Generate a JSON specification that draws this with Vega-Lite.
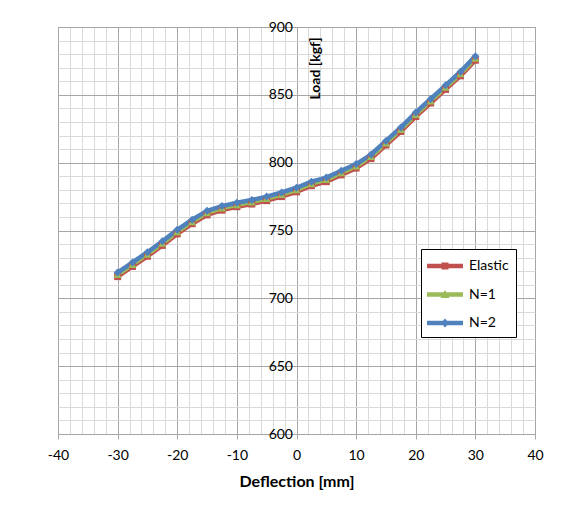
{
  "$schema": "https://vega.github.io/schema/vega-lite/v6.json",
  "width": 477,
  "height": 407,
  "autosize": "none",
  "padding": {"left": 58, "top": 27, "right": 36, "bottom": 76},
  "background": "white",
  "config": {
    "font": "Lato",
    "view": {"stroke": "#a6a6a6", "strokeWidth": 1}
  },
  "data": {
    "values": [
      {"x": -30, "load": 716, "series": "Elastic"},
      {"x": -27.5, "load": 723.5, "series": "Elastic"},
      {"x": -25, "load": 731, "series": "Elastic"},
      {"x": -22.5, "load": 739, "series": "Elastic"},
      {"x": -20, "load": 747.5, "series": "Elastic"},
      {"x": -17.5, "load": 755, "series": "Elastic"},
      {"x": -15, "load": 761.5, "series": "Elastic"},
      {"x": -12.5, "load": 765, "series": "Elastic"},
      {"x": -10, "load": 767.5, "series": "Elastic"},
      {"x": -7.5, "load": 769.5, "series": "Elastic"},
      {"x": -5, "load": 772, "series": "Elastic"},
      {"x": -2.5, "load": 775, "series": "Elastic"},
      {"x": 0, "load": 778.5, "series": "Elastic"},
      {"x": 2.5, "load": 783, "series": "Elastic"},
      {"x": 5, "load": 786, "series": "Elastic"},
      {"x": 7.5, "load": 791, "series": "Elastic"},
      {"x": 10, "load": 796, "series": "Elastic"},
      {"x": 12.5, "load": 803, "series": "Elastic"},
      {"x": 15, "load": 813, "series": "Elastic"},
      {"x": 17.5, "load": 823, "series": "Elastic"},
      {"x": 20, "load": 834, "series": "Elastic"},
      {"x": 22.5, "load": 844, "series": "Elastic"},
      {"x": 25, "load": 854, "series": "Elastic"},
      {"x": 27.5, "load": 864, "series": "Elastic"},
      {"x": 30, "load": 875.5, "series": "Elastic"},
      {"x": -30, "load": 717.5, "series": "N=1"},
      {"x": -27.5, "load": 725, "series": "N=1"},
      {"x": -25, "load": 732.5, "series": "N=1"},
      {"x": -22.5, "load": 740.5, "series": "N=1"},
      {"x": -20, "load": 749, "series": "N=1"},
      {"x": -17.5, "load": 756.5, "series": "N=1"},
      {"x": -15, "load": 763, "series": "N=1"},
      {"x": -12.5, "load": 766.5, "series": "N=1"},
      {"x": -10, "load": 769, "series": "N=1"},
      {"x": -7.5, "load": 771, "series": "N=1"},
      {"x": -5, "load": 773.5, "series": "N=1"},
      {"x": -2.5, "load": 776.5, "series": "N=1"},
      {"x": 0, "load": 780, "series": "N=1"},
      {"x": 2.5, "load": 784.5, "series": "N=1"},
      {"x": 5, "load": 787.5, "series": "N=1"},
      {"x": 7.5, "load": 792.5, "series": "N=1"},
      {"x": 10, "load": 797.5, "series": "N=1"},
      {"x": 12.5, "load": 804.5, "series": "N=1"},
      {"x": 15, "load": 814.5, "series": "N=1"},
      {"x": 17.5, "load": 824.5, "series": "N=1"},
      {"x": 20, "load": 835.5, "series": "N=1"},
      {"x": 22.5, "load": 845.5, "series": "N=1"},
      {"x": 25, "load": 855.5, "series": "N=1"},
      {"x": 27.5, "load": 865.5, "series": "N=1"},
      {"x": 30, "load": 877, "series": "N=1"},
      {"x": -30, "load": 719, "series": "N=2"},
      {"x": -27.5, "load": 726.5, "series": "N=2"},
      {"x": -25, "load": 734, "series": "N=2"},
      {"x": -22.5, "load": 742, "series": "N=2"},
      {"x": -20, "load": 750.5, "series": "N=2"},
      {"x": -17.5, "load": 758, "series": "N=2"},
      {"x": -15, "load": 764.5, "series": "N=2"},
      {"x": -12.5, "load": 768, "series": "N=2"},
      {"x": -10, "load": 770.5, "series": "N=2"},
      {"x": -7.5, "load": 772.5, "series": "N=2"},
      {"x": -5, "load": 775, "series": "N=2"},
      {"x": -2.5, "load": 778, "series": "N=2"},
      {"x": 0, "load": 781.5, "series": "N=2"},
      {"x": 2.5, "load": 786, "series": "N=2"},
      {"x": 5, "load": 789, "series": "N=2"},
      {"x": 7.5, "load": 794, "series": "N=2"},
      {"x": 10, "load": 799, "series": "N=2"},
      {"x": 12.5, "load": 806, "series": "N=2"},
      {"x": 15, "load": 816, "series": "N=2"},
      {"x": 17.5, "load": 826, "series": "N=2"},
      {"x": 20, "load": 837, "series": "N=2"},
      {"x": 22.5, "load": 847, "series": "N=2"},
      {"x": 25, "load": 857, "series": "N=2"},
      {"x": 27.5, "load": 867, "series": "N=2"},
      {"x": 30, "load": 878.5, "series": "N=2"}
    ]
  },
  "encoding": {
    "x": {
      "field": "x",
      "type": "quantitative",
      "scale": {"domain": [-40, 40], "nice": false, "zero": false},
      "axis": {
        "title": "Deflection [mm]",
        "titleFontSize": 16,
        "titleFontWeight": "bold",
        "titleColor": "#000",
        "titlePadding": 11,
        "values": [-40,-38,-36,-34,-32,-30,-28,-26,-24,-22,-20,-18,-16,-14,-12,-10,-8,-6,-4,-2,0,2,4,6,8,10,12,14,16,18,20,22,24,26,28,30,32,34,36,38,40],
        "labelExpr": "datum.value % 10 === 0 ? '' + datum.value : ''",
        "labelOverlap": false,
        "labelFontSize": 14,
        "labelColor": "#000",
        "labelPadding": 9,
        "labelFlush": false,
        "tickSize": 5,
        "tickColor": {"condition": {"test": "datum.value % 10 === 0", "value": "#a6a6a6"}, "value": "transparent"},
        "domainColor": "#a6a6a6",
        "grid": true,
        "gridColor": {"condition": {"test": "datum.value % 10 === 0", "value": "#a6a6a6"}, "value": "#d9d9d9"},
        "gridOpacity": 1,
        "gridWidth": 1
      }
    },
    "y": {
      "field": "load",
      "type": "quantitative",
      "scale": {"domain": [600, 900], "nice": false, "zero": false},
      "axis": {
        "title": "Load [kgf]",
        "titleFontSize": 14,
        "titleFontWeight": "bold",
        "titleColor": "#000",
        "titleAngle": 270,
        "titleX": 19,
        "titleY": 41,
        "titleAlign": "center",
        "titleBaseline": "middle",
        "offset": -238.5,
        "values": [600,610,620,630,640,650,660,670,680,690,700,710,720,730,740,750,760,770,780,790,800,810,820,830,840,850,860,870,880,890,900],
        "labelExpr": "datum.value % 50 === 0 ? datum.label : ''",
        "labelOverlap": false,
        "labelFontSize": 14,
        "labelColor": "#000",
        "labelPadding": 4,
        "labelFlush": false,
        "ticks": false,
        "domain": false,
        "grid": true,
        "gridColor": {"condition": {"test": "datum.value % 50 === 0", "value": "#a6a6a6"}, "value": "#d9d9d9"},
        "gridOpacity": 1,
        "gridWidth": 1
      }
    },
    "color": {
      "field": "series",
      "type": "nominal",
      "sort": ["Elastic", "N=1", "N=2"],
      "scale": {"domain": ["Elastic", "N=1", "N=2"], "range": ["#C0504D", "#9BBB59", "#4F81BD"]},
      "legend": {
        "title": null,
        "orient": "none",
        "legendX": 363,
        "legendY": 222,
        "padding": 7,
        "strokeColor": "#000",
        "fillColor": "white",
        "symbolSize": 400,
        "symbolType": "M-1.1,-0.22H2.5V0.22H-1.1Z",
        "rowPadding": 11.5,
        "labelOffset": 21,
        "labelFontSize": 14,
        "labelColor": "#000",
        "symbolStrokeWidth": 0,
        "encode": {
          "symbols": {
            "update": {
              "shape": {"signal": "datum.value === 'Elastic' ? 'M-1.1,-0.22H2.5V0.22H-1.1Z M0.35,-0.35H1.05V0.35H0.35Z' : datum.value === 'N=1' ? 'M-1.1,-0.22H2.5V0.22H-1.1Z M0.7,-0.45L1.15,0.35L0.25,0.35Z' : 'M-1.1,-0.22H2.5V0.22H-1.1Z M0.7,-0.45L1.1,0L0.7,0.45L0.3,0Z'"},
              "fill": {"scale": "color", "field": "value"},
              "strokeWidth": {"value": 0},
              "opacity": {"value": 1}
            }
          }
        }
      }
    }
  },
  "layer": [
    {
      "mark": {"type": "line", "strokeWidth": 4.5, "strokeJoin": "round", "strokeCap": "round"},
      "encoding": {"detail": {"field": "series"}}
    },
    {
      "transform": [{"filter": "datum.series === 'Elastic'"}],
      "mark": {"type": "point", "filled": true, "opacity": 1, "strokeWidth": 0, "shape": "square", "size": 49}
    },
    {
      "transform": [{"filter": "datum.series === 'N=1'"}],
      "mark": {"type": "point", "filled": true, "opacity": 1, "strokeWidth": 0, "shape": "triangle-up", "size": 64}
    },
    {
      "transform": [{"filter": "datum.series === 'N=2'"}],
      "mark": {"type": "point", "filled": true, "opacity": 1, "strokeWidth": 0, "shape": "diamond", "size": 64}
    }
  ]
}
